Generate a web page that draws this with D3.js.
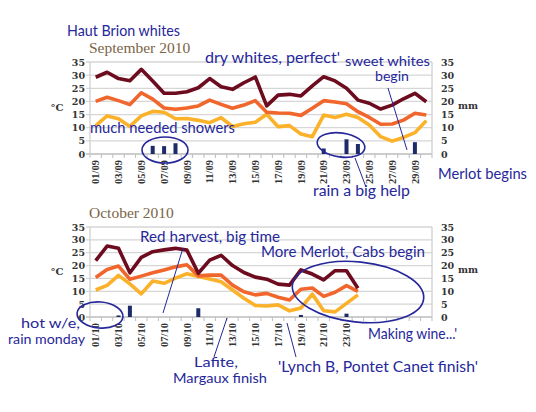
<!DOCTYPE html>
<html>
<head>
<meta charset="utf-8">
<script src="https://cdn.jsdelivr.net/npm/d3@7/dist/d3.min.js"></script>
<style>
  html, body { margin: 0; padding: 0; background: #fff; }
  svg { display: block; }
</style>
</head>
<body>
<svg id="chart" width="536" height="412"></svg>
<script>
// ---------- DATA ----------
const sepDays = ["01/09","02/09","03/09","04/09","05/09","06/09","07/09","08/09","09/09","10/09",
                 "11/09","12/09","13/09","14/09","15/09","16/09","17/09","18/09","19/09","20/09",
                 "21/09","22/09","23/09","24/09","25/09","26/09","27/09","28/09","29/09","30/09"];
const sepTickLabels = ["01/09","03/09","05/09","07/09","09/09","11/09","13/09","15/09",
                       "17/09","19/09","21/09","23/09","25/09","27/09","29/09"];
const sepMax = [29.2, 31.1, 28.7, 27.9, 32.2, 27.8, 23.1, 23.1, 23.7, 25.2,
                28.7, 25.6, 24.6, 27.1, 29.3, 18.3, 22.4, 22.7, 22.1, 25.9,
                29.4, 27.8, 25.0, 20.5, 19.3, 17.1, 18.6, 21.0, 23.1, 19.9];
const sepAvg = [20.0, 21.6, 20.3, 18.8, 23.3, 20.9, 17.5, 17.0, 17.5, 18.3,
                20.5, 18.9, 17.4, 18.6, 20.3, 15.9, 15.6, 15.5, 14.7, 17.4,
                20.3, 19.8, 19.1, 16.1, 13.9, 11.3, 11.4, 12.9, 15.5, 14.8];
const sepMin = [10.8, 14.5, 13.4, 10.5, 14.5, 16.2, 15.9, 13.4, 13.5, 12.8,
                11.9, 13.8, 10.5, 11.5, 12.1, 15.1, 10.4, 10.8, 7.6, 6.6,
                14.8, 13.9, 15.1, 13.9, 11.0, 6.6, 4.9, 6.3, 8.1, 12.7];
const sepRain = [0, 0, 0, 0, 0, 3.1, 3.0, 4.1, 0, 0,
                 0, 0, 0, 0, 0, 0, 0, 0, 0, 0,
                 2.1, 0, 5.6, 3.8, 0, 0, 0, 0, 4.5, 0];

const octDays = ["01/10","02/10","03/10","04/10","05/10","06/10","07/10","08/10","09/10","10/10",
                 "11/10","12/10","13/10","14/10","15/10","16/10","17/10","18/10","19/10","20/10",
                 "21/10","22/10","23/10","24/10","25/10","26/10","27/10","28/10","29/10","30/10"];
const octTickLabels = ["01/10","03/10","05/10","07/10","09/10","11/10","13/10","15/10",
                       "17/10","19/10","21/10","23/10"];
const octMax = [21.9, 27.6, 26.7, 17.2, 23.2, 25.4, 26.1, 26.7, 26.0, 17.0,
                22.1, 24.0, 20.0, 17.3, 15.5, 14.7, 12.8, 12.4, 18.3, 16.7,
                14.4, 18.0, 18.0, 11.2];
const octAvg = [15.4, 18.5, 19.8, 14.7, 15.9, 17.2, 18.3, 19.5, 20.3, 16.0,
                16.3, 16.3, 12.4, 9.8, 8.6, 9.2, 7.7, 6.6, 10.8, 11.3,
                8.0, 9.6, 12.2, 10.0];
const octMin = [10.5, 12.3, 16.2, 12.9, 9.0, 14.0, 13.1, 15.1, 16.8, 15.8,
                14.8, 13.7, 10.5, 7.3, 4.5, 4.3, 4.7, 2.4, 3.5, 8.9,
                2.4, 2.0, 5.3, 8.6];
const octRain = [0, 0, 0.6, 4.4, 0, 0, 0, 0, 0, 3.4,
                 0, 0, 0, 0, 0, 0, 0, 0, 0.8, 0,
                 0, 0, 1.3, 0];

const yTicks = [0, 5, 10, 15, 20, 25, 30, 35];

// ---------- STYLE ----------
const C_MAX = "#6d0c1f", C_AVG = "#f1662c", C_MIN = "#fbb22a", C_RAIN = "#1e2b6b";
const INK = "#26279a";
const HAND = "'Lato', 'Open Sans', sans-serif";

const svg = d3.select("#chart");

function panel(cfg) {
  const g = svg.append("g");
  const x = d3.scaleBand().domain(cfg.cats).range([90, 432]);
  const y = d3.scaleLinear().domain([0, 35]).range(cfg.yRange);
  const bw = x.bandwidth();
  const y0 = y(0);

  // title
  g.append("text").attr("x", 89).attr("y", cfg.titleY)
    .attr("font-family", "'Liberation Serif', 'DejaVu Serif', serif")
    .attr("font-size", 15.5).attr("fill", "#7b6547").text(cfg.title);

  // gridlines
  g.append("g").selectAll("line").data(yTicks).join("line")
    .attr("x1", 86).attr("x2", 432)
    .attr("y1", d => y(d)).attr("y2", d => y(d))
    .attr("stroke", d => d === 0 ? "#bdbdbd" : "#d6d6d6").attr("stroke-width", 1.3);
  // vertical frame
  [90, 432].forEach(px => g.append("line").attr("x1", px).attr("x2", px)
    .attr("y1", y(35)).attr("y2", y0).attr("stroke", "#cfcfcf").attr("stroke-width", 1.3));

  // left axis
  const la = g.append("g").attr("transform", "translate(87,0)")
    .call(d3.axisLeft(y).tickValues(yTicks).tickSize(0).tickPadding(2));
  la.select(".domain").remove();
  la.selectAll("text").attr("font-family", "'DejaVu Serif', serif").attr("font-size", 9.5)
    .attr("font-weight", "bold").attr("fill", "#333");
  // right axis
  const ra = g.append("g").attr("transform", "translate(432,0)")
    .call(d3.axisRight(y).tickValues(yTicks).tickSize(0).tickPadding(9));
  ra.select(".domain").remove();
  ra.selectAll("text").attr("font-family", "'DejaVu Serif', serif").attr("font-size", 9.5)
    .attr("font-weight", "bold").attr("fill", "#333");

  // units
  g.append("text").attr("x", 57).attr("y", (y(20) + y(15)) / 2 + 3)
    .attr("font-family", "'DejaVu Serif', serif").attr("font-size", 10).attr("font-weight", "bold")
    .attr("fill", "#333").attr("text-anchor", "middle").text("°C");
  g.append("text").attr("x", 458).attr("y", (y(20) + y(15)) / 2 + 1)
    .attr("font-family", "'DejaVu Serif', serif").attr("font-size", 9.5).attr("font-weight", "bold")
    .attr("fill", "#333").text("mm");

  // x tick marks at category boundaries
  g.append("g").selectAll("line").data(cfg.cats.concat(["__end"])).join("line")
    .attr("x1", d => d === "__end" ? 432 : x(d)).attr("x2", d => d === "__end" ? 432 : x(d))
    .attr("y1", y0).attr("y2", y0 + 4).attr("stroke", "#bdbdbd").attr("stroke-width", 1);

  // x labels
  const xa = g.append("g").attr("transform", `translate(0,${y0})`)
    .call(d3.axisBottom(x).tickValues(cfg.ticks).tickSize(0));
  xa.select(".domain").remove();
  xa.selectAll("text")
    .attr("transform", "rotate(-90)").attr("x", -6).attr("y", 0).attr("dy", "0.35em")
    .attr("text-anchor", "end")
    .attr("font-family", "'Liberation Serif', serif").attr("font-size", 10.5)
    .attr("font-weight", "bold").attr("fill", "#333");

  // rain bars
  g.append("g").selectAll("rect").data(cfg.rain.map((v, i) => ({ v, c: cfg.cats[i] })).filter(d => d.v > 0))
    .join("rect")
    .attr("x", d => x(d.c) + bw / 2 - 2).attr("width", 4)
    .attr("y", d => y(d.v)).attr("height", d => y0 - y(d.v))
    .attr("fill", C_RAIN);

  // lines
  const line = d3.line().x((d, i) => x(cfg.cats[i]) + bw / 2).y(d => y(d));
  [[cfg.min, C_MIN], [cfg.avg, C_AVG], [cfg.max, C_MAX]].forEach(([data, col]) => {
    g.append("path").datum(data).attr("d", line)
      .attr("fill", "none").attr("stroke", col).attr("stroke-width", 3.6)
      .attr("stroke-linejoin", "round");
  });
}

panel({ cats: sepDays, ticks: sepTickLabels, max: sepMax, avg: sepAvg, min: sepMin, rain: sepRain,
        yRange: [154, 62], title: "September 2010", titleY: 53 });
panel({ cats: octDays, ticks: octTickLabels, max: octMax, avg: octAvg, min: octMin, rain: octRain,
        yRange: [317, 227], title: "October 2010", titleY: 218 });

// ---------- ANNOTATIONS ----------
const notes = [
  { t: "Haut Brion whites", x: 67, y: 36, w: 113, s: 15 },
  { t: "dry whites, perfect'", x: 205, y: 63, w: 135, s: 15 },
  { t: "sweet whites", x: 345, y: 66, w: 85, s: 13 },
  { t: "begin", x: 375, y: 81, w: 34, s: 13 },
  { t: "much needed showers", x: 90, y: 133, w: 145, s: 15 },
  { t: "Merlot begins", x: 438, y: 179, w: 89, s: 15 },
  { t: "rain a big help", x: 313, y: 196, w: 97, s: 15 },
  { t: "Red harvest, big time", x: 140, y: 242, w: 140, s: 15 },
  { t: "More Merlot, Cabs begin", x: 261, y: 257, w: 164, s: 15 },
  { t: "hot w/e,", x: 21, y: 328, w: 59, s: 13 },
  { t: "rain monday", x: 8, y: 344, w: 77, s: 13 },
  { t: "Making wine...'", x: 368, y: 339, w: 89, s: 15 },
  { t: "Lafite,", x: 194, y: 367, w: 44, s: 13 },
  { t: "Margaux finish", x: 173, y: 383, w: 94, s: 13 },
  { t: "'Lynch B, Pontet Canet finish'", x: 278, y: 372, w: 200, s: 15 }
];
svg.append("g").selectAll("text").data(notes).join("text")
  .attr("x", d => d.x).attr("y", d => d.y)
  .attr("textLength", d => d.w).attr("lengthAdjust", "spacingAndGlyphs")
  .attr("font-family", HAND).attr("font-weight", 400).attr("font-size", d => d.s)
  .attr("fill", INK).text(d => d.t);

const ellipses = [
  { cx: 165, cy: 150, rx: 23, ry: 13, r: 0 },
  { cx: 341, cy: 145, rx: 24, ry: 12, r: 8 },
  { cx: 100, cy: 315, rx: 23, ry: 13, r: 5 },
  { cx: 358, cy: 292, rx: 66, ry: 30, r: 6 }
];
svg.append("g").selectAll("ellipse").data(ellipses).join("ellipse")
  .attr("cx", d => d.cx).attr("cy", d => d.cy).attr("rx", d => d.rx).attr("ry", d => d.ry)
  .attr("transform", d => `rotate(${d.r},${d.cx},${d.cy})`)
  .attr("fill", "none").attr("stroke", INK).attr("stroke-width", 1.6);

const strokes = [
  [388, 88, 407, 150],
  [355, 158, 366, 187],
  [183, 248, 163, 313],
  [227, 318, 214, 357],
  [287, 323, 296, 357]
];
svg.append("g").selectAll("line").data(strokes).join("line")
  .attr("x1", d => d[0]).attr("y1", d => d[1]).attr("x2", d => d[2]).attr("y2", d => d[3])
  .attr("stroke", INK).attr("stroke-width", 1);
</script>
</body>
</html>
